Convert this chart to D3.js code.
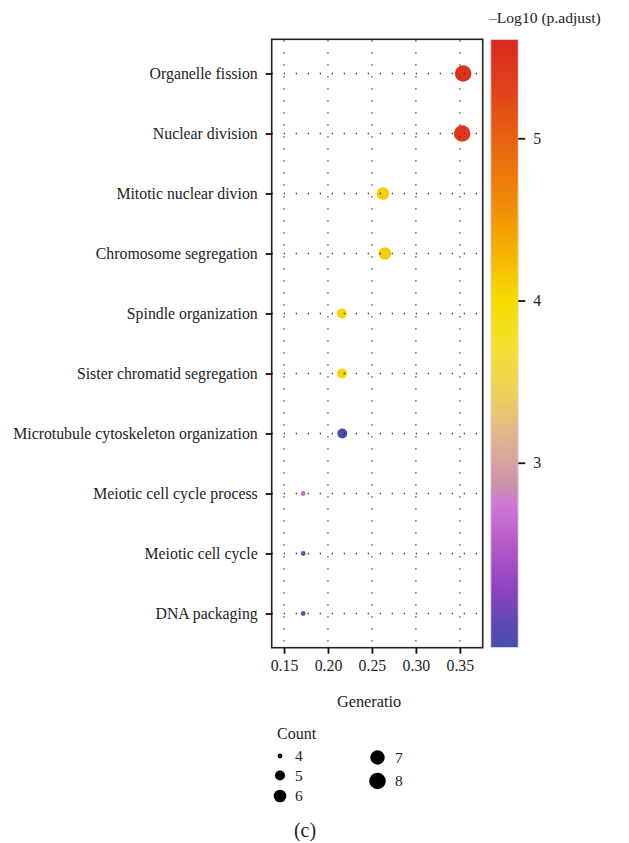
<!DOCTYPE html>
<html lang="en">
<head>
    <meta charset="UTF-8">
    <title>GO enrichment dot plot</title>
    <script src="https://d3js.org/d3.v7.min.js"></script>
    <style>
        body {
            margin: 0;
            background: #fff;
        }
        svg text {
            font-family: "Liberation Serif", "DejaVu Serif", serif;
            fill: #222;
        }
    </style>
</head>
<body>
<div id="chart"></div>
<script>
    // terms, top to bottom
    const terms = [
        "Organelle fission",
        "Nuclear division",
        "Mitotic nuclear divion",
        "Chromosome segregation",
        "Spindle organization",
        "Sister chromatid segregation",
        "Microtubule cytoskeleton organization",
        "Meiotic cell cycle process",
        "Meiotic cell cycle",
        "DNA packaging"
    ];
    const geneRatio = [0.3538, 0.3526, 0.2625, 0.2648, 0.2159, 0.2160, 0.2163, 0.1719, 0.1719, 0.1719];
    const counts = [8, 8, 6, 6, 5, 5, 5, 4, 4, 4];
    const negLogP = [5.5, 5.45, 4.1, 4.1, 4.05, 4.05, 1.87, 2.65, 2.1, 2.1];

    const xTicks = [0.15, 0.20, 0.25, 0.30, 0.35];
    const colorTicks = [3, 4, 5];
    const countLevels = [4, 5, 6, 7, 8];

    // colour ramp
    const rampValues = [1.86, 2.0, 2.2, 2.5, 2.75, 2.85, 3.0, 3.2, 3.4, 3.7, 4.0, 4.3, 4.6, 5.0, 5.3, 5.61];
    const rampColors = ["#4350a8", "#5c48b2", "#8a42c0", "#b65ac8", "#cf78d6", "#c990ac", "#d8a2a0",
        "#e2b888", "#ebcf62", "#f3e033", "#f5dd00", "#f5b200", "#f08a06", "#e8630f", "#e0421a", "#d9291f"];

    const W = 629, H = 843;
    const panel = {left: 271.7, right: 482.7, top: 39.3, bottom: 647.7};
    const fs = 15.8;

    const svg = d3.select("#chart")
        .append("svg")
        .attr("width", W)
        .attr("height", H);

    const x = d3.scaleLinear()
        .domain([0.136, 0.376])
        .range([panel.left, panel.right]);

    const y = d3.scalePoint()
        .domain(terms)
        .range([panel.top, panel.bottom])
        .padding(0.57);

    const color = d3.scaleLinear()
        .domain(rampValues)
        .range(rampColors);

    const size = d3.scaleLinear()
        .domain(countLevels)
        .range([2.4, 5.0, 6.3, 7.2, 8.3]);

    const data = terms.map((t, i) => ({
        term: t, ratio: geneRatio[i], count: counts[i], val: negLogP[i]
    }));

    // points
    svg.append("g")
        .selectAll("circle")
        .data(data)
        .join("circle")
        .attr("cx", d => x(d.ratio))
        .attr("cy", d => y(d.term))
        .attr("r", d => size(d.count))
        .attr("fill", d => color(d.val));

    // dotted grid (drawn over the points, as in the original)
    const grid = svg.append("g")
        .attr("stroke", "#333")
        .attr("stroke-width", 1.3)
        .attr("stroke-dasharray", "1.3,10.7");

    grid.selectAll("line.v")
        .data(xTicks)
        .join("line")
        .attr("class", "v")
        .attr("x1", d => x(d)).attr("x2", d => x(d))
        .attr("y1", panel.top + 1).attr("y2", panel.bottom);

    grid.selectAll("line.h")
        .data(terms)
        .join("line")
        .attr("class", "h")
        .attr("x1", panel.left).attr("x2", panel.right)
        .attr("y1", d => y(d)).attr("y2", d => y(d));

    // panel border
    svg.append("rect")
        .attr("x", panel.left)
        .attr("y", panel.top)
        .attr("width", panel.right - panel.left)
        .attr("height", panel.bottom - panel.top)
        .attr("fill", "none")
        .attr("stroke", "#222")
        .attr("stroke-width", 1.6);

    // axes
    const xAxis = svg.append("g")
        .attr("transform", `translate(0,${panel.bottom})`)
        .call(d3.axisBottom(x).tickValues(xTicks).tickFormat(d3.format(".2f")).tickSize(6).tickPadding(6));
    xAxis.select(".domain").remove();
    xAxis.selectAll(".tick line").attr("stroke", "#111").attr("stroke-width", 1.8);
    xAxis.selectAll(".tick text").attr("font-size", fs).attr("fill", "#222");

    const yAxis = svg.append("g")
        .attr("transform", `translate(${panel.left},0)`)
        .call(d3.axisLeft(y).tickSize(6).tickPadding(8));
    yAxis.select(".domain").remove();
    yAxis.selectAll(".tick line").attr("stroke", "#111").attr("stroke-width", 1.8);
    yAxis.selectAll(".tick text").attr("font-size", fs).attr("fill", "#222");

    svg.append("text")
        .attr("x", 369)
        .attr("y", 707)
        .attr("text-anchor", "middle")
        .attr("font-size", 16.3)
        .text("Generatio");

    // colour bar
    const bar = {left: 490.7, right: 518.3, top: 39.3, bottom: 647.7};
    const cY = d3.scaleLinear()
        .domain([rampValues[0], rampValues[rampValues.length - 1]])
        .range([bar.bottom, bar.top]);

    const grad = svg.append("defs").append("linearGradient")
        .attr("id", "cbar")
        .attr("x1", 0).attr("y1", 1).attr("x2", 0).attr("y2", 0);
    grad.selectAll("stop")
        .data(rampValues)
        .join("stop")
        .attr("offset", d => (d - rampValues[0]) / (rampValues[rampValues.length - 1] - rampValues[0]))
        .attr("stop-color", d => color(d));

    svg.append("rect")
        .attr("x", bar.left)
        .attr("y", bar.top)
        .attr("width", bar.right - bar.left)
        .attr("height", bar.bottom - bar.top)
        .attr("fill", "url(#cbar)")
        .attr("stroke", "#e8e0f0")
        .attr("stroke-width", 1);

    const cAxis = svg.append("g")
        .attr("transform", `translate(${bar.right},0)`)
        .call(d3.axisRight(cY).tickValues(colorTicks).tickFormat(d3.format("d")).tickSize(7).tickPadding(8));
    cAxis.select(".domain").remove();
    cAxis.selectAll(".tick line").attr("stroke", "#111").attr("stroke-width", 1.8);
    cAxis.selectAll(".tick text").attr("font-size", fs).attr("fill", "#222");

    svg.append("text")
        .attr("x", 489)
        .attr("y", 23)
        .attr("font-size", 15.6)
        .text("\u2013Log10 (p.adjust)");

    // size legend
    const legend = svg.append("g");
    legend.append("text")
        .attr("x", 277)
        .attr("y", 739)
        .attr("font-size", 16)
        .text("Count");

    const legendPos = [
        {cx: 280, cy: 756}, {cx: 280, cy: 775.5}, {cx: 280, cy: 796},
        {cx: 377.5, cy: 757.5}, {cx: 377.5, cy: 781}
    ];
    const items = legend.selectAll("g.item")
        .data(countLevels)
        .join("g")
        .attr("class", "item")
        .attr("transform", (d, i) => `translate(${legendPos[i].cx},${legendPos[i].cy})`);
    items.append("circle")
        .attr("r", d => size(d))
        .attr("fill", "#000");
    items.append("text")
        .attr("x", (d, i) => i < 3 ? 15 : 17.5)
        .attr("dy", "0.35em")
        .attr("font-size", 15.5)
        .text(d => d);

    svg.append("text")
        .attr("x", 305)
        .attr("y", 837)
        .attr("text-anchor", "middle")
        .attr("font-size", 20)
        .text("(c)");
</script>
</body>
</html>
